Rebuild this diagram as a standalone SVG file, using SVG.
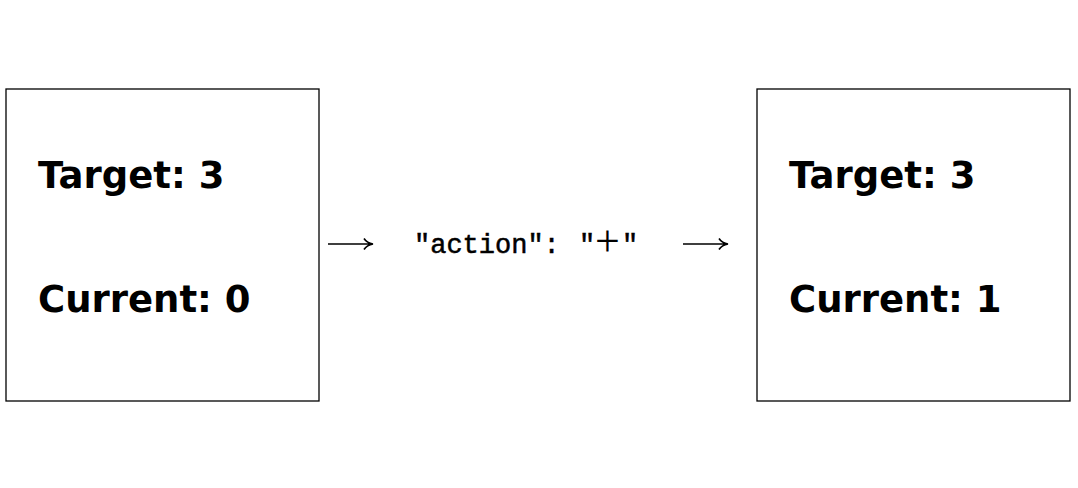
<svg xmlns="http://www.w3.org/2000/svg" width="1078" height="488" viewBox="0 0 1078 488">
<style>
.box{fill:#fff;stroke:#000;stroke-width:1.3}
.lbl{font-family:"DejaVu Sans",sans-serif;font-weight:bold;font-size:37px;fill:#000}
.tt{font-family:"Liberation Mono",monospace;font-size:27px;fill:#000;stroke:#000;stroke-width:0.5}
.rm{font-family:"Liberation Serif",serif;font-size:44px;fill:#000}
.arr{stroke:#000;stroke-width:1.7;fill:none}
</style>
<rect width="1078" height="488" fill="#fff"/>
<g id="state-before">
<rect class="box" x="6" y="89" width="313" height="312"/>
<text class="lbl" x="38" y="188">Target: 3</text>
<text class="lbl" x="38" y="312">Current: 0</text>
</g>
<g id="action">
<text class="tt" x="414" y="253">"action":</text>
<text class="tt" x="579" y="253">"</text>
<text class="rm" x="595" y="256">+</text>
<text class="tt" x="622" y="253">"</text>
</g>
<g id="state-after">
<rect class="box" x="757" y="89" width="313" height="312"/>
<text class="lbl" x="789" y="188">Target: 3</text>
<text class="lbl" x="789" y="312">Current: 1</text>
</g>
<g id="connectors">
<path class="arr" d="M328 244H372M364 238.5Q367 243 373 244Q367 245 364 249.5"/>
<path class="arr" d="M683 244H727M719 238.5Q722 243 728 244Q722 245 719 249.5"/>
</g>
</svg>
